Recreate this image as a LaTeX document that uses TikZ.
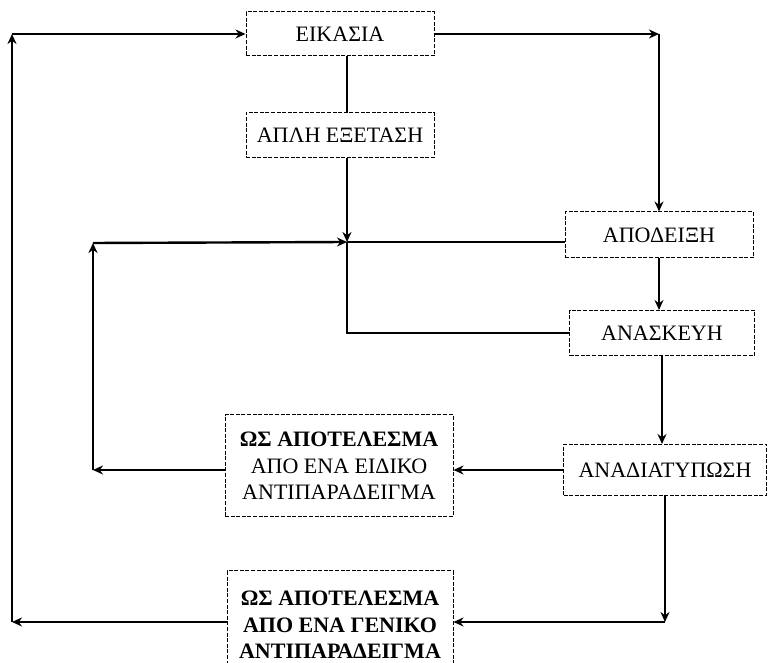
\documentclass[tikz,border=0pt]{standalone}
\usepackage{fontspec}
\setmainfont{Liberation Serif}
\usetikzlibrary{arrows.meta}

\begin{document}
\begin{tikzpicture}[line width = 1.2pt,
                    x = 0.5pt,
                    y = -0.5pt,
                    >={Stealth[length = 5pt, width = 4.5pt]},
                    box/.style = {draw, line width = 0.5pt, dash pattern = on 2pt off 0.8pt,
                                  inner sep = 0pt, align = center,
                                  font = \fontsize{11}{13.3}\selectfont}]

    \useasboundingbox (0,0) rectangle (768,663);

    % boxes
    \node[box, minimum width = 94pt, minimum height = 22pt] (EIKASIA) at (340,34) {ΕΙΚΑΣΙΑ};
    \node[box, minimum width = 94pt, minimum height = 22.5pt] (APLH) at (340,135) {ΑΠΛΗ ΕΞΕΤΑΣΗ};
    \node[box, minimum width = 94pt, minimum height = 23pt] (APODEIXI) at (659,235) {ΑΠΟΔΕΙΞΗ};
    \node[box, minimum width = 92.5pt, minimum height = 22.5pt] (ANASKEYH) at (662,333) {ΑΝΑΣΚΕΥΗ};
    \node[box, minimum width = 101.5pt, minimum height = 25.5pt] (ANADIAT) at (665,470) {ΑΝΑΔΙΑΤΥΠΩΣΗ};
    \node[box, minimum width = 114pt, minimum height = 51pt] (EIDIKO) at (339,466)
        {\textbf{ΩΣ ΑΠΟΤΕΛΕΣΜΑ}\\ΑΠΟ ΕΝΑ ΕΙΔΙΚΟ\\ΑΝΤΙΠΑΡΑΔΕΙΓΜΑ};
    \node[box, minimum width = 113pt, minimum height = 54pt] (GENIKO) at (340,625)
        {\textbf{ΩΣ ΑΠΟΤΕΛΕΣΜΑ}\\\textbf{ΑΠΟ ΕΝΑ ΓΕΝΙΚΟ}\\\textbf{ΑΝΤΙΠΑΡΑΔΕΙΓΜΑ}};

    % corners
    \coordinate (J) at (347,242);
    \coordinate (R) at (659,34);
    \coordinate (A) at (93,470);
    \coordinate (B) at (93,243);
    \coordinate (C) at (665,622);
    \coordinate (D) at (12,622);
    \coordinate (E) at (12,34);

    \foreach \i/\j in {EIKASIA.east/R,
                       R/APODEIXI.north,
                       APLH.south -| J/J,
                       APODEIXI.south/APODEIXI.south |- ANASKEYH.north,
                       ANASKEYH.south/ANASKEYH.south |- ANADIAT.north,
                       ANADIAT.west/EIDIKO.east |- ANADIAT.west,
                       EIDIKO.west |- A/A,
                       A/B,
                       B/J,
                       ANADIAT.south/C,
                       C/GENIKO.east |- C,
                       GENIKO.west |- C/D,
                       D/E,
                       E/EIKASIA.west}
    {
        \draw[->] (\i) -- (\j);
    }

    \draw (EIKASIA.south -| J) -- (APLH.north -| J);
    \draw (APODEIXI.west |- J) -- (J);
    \draw (J) -- (J |- ANASKEYH.west) -- (ANASKEYH.west);
\end{tikzpicture}
\end{document}
